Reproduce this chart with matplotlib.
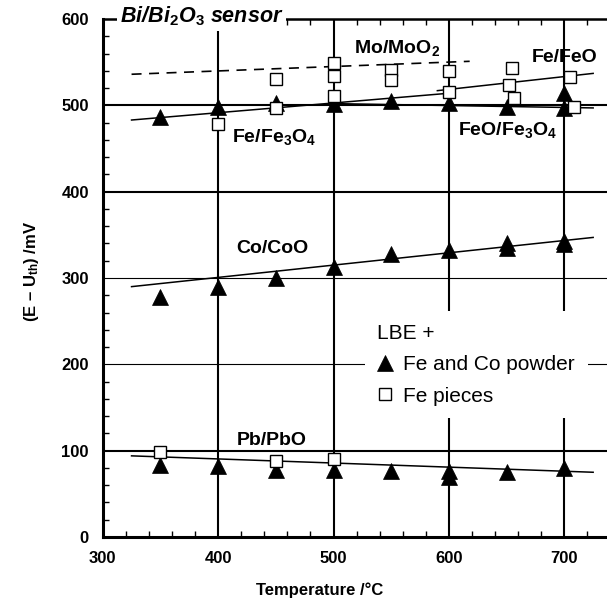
import matplotlib
matplotlib.use('Agg')
import matplotlib.pyplot as plt
from matplotlib.lines import Line2D
from matplotlib.ticker import MultipleLocator

plt.rcParams['font.family'] = ['Liberation Sans', 'DejaVu Sans']
plt.rcParams['mathtext.fontset'] = 'custom'
plt.rcParams['mathtext.rm'] = 'Liberation Sans:bold'
plt.rcParams['mathtext.it'] = 'Liberation Sans:bold:italic'
plt.rcParams['mathtext.bf'] = 'Liberation Sans:bold'
plt.rcParams['mathtext.default'] = 'rm'

# LBE + Fe and Co powder (filled triangles)
pb_powder_x = [350, 400, 450, 500, 550, 600, 600, 650, 700]
pb_powder_y = [83, 82, 78, 78, 77, 77, 70, 75, 80]
co_powder_x = [350, 400, 450, 500, 550, 600, 650, 650, 700, 700]
co_powder_y = [278, 290, 300, 313, 328, 332, 335, 341, 339, 343]
fe_powder_x = [350, 400, 450, 500, 550, 600, 650, 700, 700]
fe_powder_y = [487, 498, 503, 501, 505, 503, 498, 514, 497]

# LBE + Fe pieces (open squares)
pb_pieces_x = [350, 450, 500]
pb_pieces_y = [98, 88, 90]
fe_pieces_x = [400, 450, 450, 500, 500, 500, 550, 550, 600, 600, 655, 652, 656, 705, 708]
fe_pieces_y = [478, 530, 497, 549, 534, 511, 541, 529, 540, 515, 543, 524, 509, 533, 498]

# regression lines (end points)
pb_fit_x, pb_fit_y = [325, 725], [94, 75]
co_fit_x, co_fit_y = [325, 725], [290, 347]
mo_fit_x, mo_fit_y = [325, 618], [536, 551]
fe_fe3o4_fit_x, fe_fe3o4_fit_y = [325, 600], [483, 514]
fe_feo_fit_x, fe_feo_fit_y = [590, 725], [517, 537]
feo_fe3o4_fit_x, feo_fe3o4_fit_y = [500, 725], [502, 497]

# reference lines
thick_h = [100, 400, 500]
thin_h = [200, 300]
grid_v = [400, 500, 600, 700]

labels = ['Mo/MoO$_2$', 'Fe/FeO', 'Fe/Fe$_3$O$_4$', 'FeO/Fe$_3$O$_4$', 'Co/CoO', 'Pb/PbO']
label_x = [518, 672, 412, 608, 416, 416]
label_y = [561, 550, 458, 466, 329, 107]

fig = plt.figure(figsize=(6.07, 6.07), dpi=100)
ax = fig.add_axes([0.1692, 0.1153, 0.8308, 0.8534])

for y in thick_h:
    ax.axhline(y, color='black', lw=1.5, zorder=1)
for y in thin_h:
    ax.axhline(y, color='black', lw=0.8, zorder=1)
for x in grid_v:
    ax.axvline(x, color='black', lw=1.5, zorder=1)

fits = [(pb_fit_x, pb_fit_y), (co_fit_x, co_fit_y),
        (fe_fe3o4_fit_x, fe_fe3o4_fit_y), (fe_feo_fit_x, fe_feo_fit_y),
        (feo_fe3o4_fit_x, feo_fe3o4_fit_y)]
for fx, fy in fits:
    ax.plot(fx, fy, color='black', lw=1.1, zorder=2)
ax.plot(mo_fit_x, mo_fit_y, color='black', lw=1.2, ls=(0, (6, 4.5)), zorder=2)

tri = dict(ls='none', marker='^', ms=11, mfc='black', mec='black', mew=0.5, zorder=3)
sq = dict(ls='none', marker='s', ms=8.8, mfc='white', mec='black', mew=1.0, zorder=4)
for px, py in [(pb_powder_x, pb_powder_y), (co_powder_x, co_powder_y), (fe_powder_x, fe_powder_y)]:
    ax.plot(px, py, **tri)
for px, py in [(pb_pieces_x, pb_pieces_y), (fe_pieces_x, fe_pieces_y)]:
    ax.plot(px, py, **sq)

for txt, x, y in zip(labels, label_x, label_y):
    ax.text(x, y, txt, fontsize=14, fontweight='bold', ha='left', va='baseline', zorder=6)

ax.text(315, 595.5, r'Bi/Bi$_{\mathit{2}}$O$_{\mathit{3}}$ sensor', fontsize=15.5,
        fontweight='bold', style='italic', ha='left', va='baseline', zorder=7,
        clip_on=False, bbox=dict(boxstyle='square,pad=0.12', fc='white', ec='none'))

ax.set_xlim(300, 737)
ax.set_ylim(0, 600)
ax.xaxis.set_major_locator(MultipleLocator(100))
ax.yaxis.set_major_locator(MultipleLocator(100))
ax.xaxis.set_minor_locator(MultipleLocator(20))
ax.yaxis.set_minor_locator(MultipleLocator(20))
ax.tick_params(which='major', length=0, pad=10, labelsize=12)
ax.tick_params(which='minor', direction='in', length=4, width=1, top=True)
for lab in ax.get_xticklabels() + ax.get_yticklabels():
    lab.set_fontweight('bold')

ax.spines['right'].set_visible(False)
ax.spines['left'].set_linewidth(2.2)
ax.spines['bottom'].set_linewidth(2.2)
ax.spines['top'].set_linewidth(1.8)

ax.set_xlabel('Temperature /°C', fontsize=12, fontweight='bold')
ax.set_ylabel('(E – U$_{th}$) /mV', fontsize=12, fontweight='bold')
ax.xaxis.set_label_coords(0.431, -0.102)
ax.xaxis.label.set_va('center')
ax.yaxis.set_label_coords(-0.142, 0.513)
ax.yaxis.label.set_va('center')

handles = [Line2D([], [], **tri), Line2D([], [], **sq)]
leg = ax.legend(handles, ['Fe and Co powder', 'Fe pieces'], title='LBE +',
                loc='upper left', bbox_to_anchor=(0.520, 0.436), borderaxespad=0,
                fontsize=15, title_fontsize=15, alignment='left',
                frameon=True, fancybox=False, framealpha=1, facecolor='white',
                edgecolor='none', handlelength=0.7, handletextpad=0.55,
                borderpad=0.6, labelspacing=0.6)
leg.set_zorder(5)

fig.savefig('out.png', dpi=100)
